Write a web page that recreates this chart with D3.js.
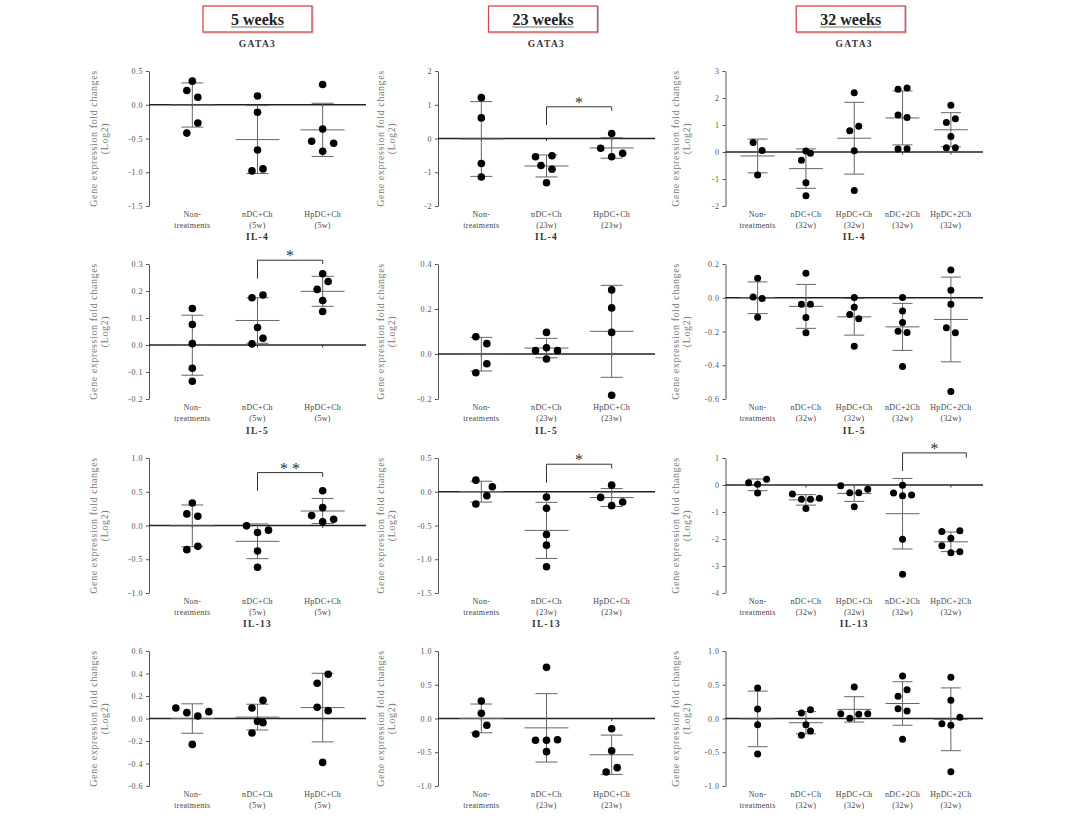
<!DOCTYPE html>
<html><head><meta charset="utf-8">
<script src="https://cdn.jsdelivr.net/npm/d3@7"></script>
<style>
body{margin:0;background:#fff;}
svg{display:block;font-family:"Liberation Serif","Times New Roman",serif;}
</style></head><body>
<svg id="chart" width="1067" height="829"></svg>
<script>
// ---------------- DATA ----------------
const weeks = ["5 weeks", "23 weeks", "32 weeks"];
const genes = ["GATA3", "IL-4", "IL-5", "IL-13"];
const groups5w  = [["Non-", "treatments"], ["nDC+Ch", "(5w)"], ["HpDC+Ch", "(5w)"]];
const groups23w = [["Non-", "treatments"], ["nDC+Ch", "(23w)"], ["HpDC+Ch", "(23w)"]];
const groups32w = [["Non-", "treatments"], ["nDC+Ch", "(32w)"], ["HpDC+Ch", "(32w)"], ["nDC+2Ch", "(32w)"], ["HpDC+2Ch", "(32w)"]];

// y-axis tick values per gene: [5w, 23w, 32w]
const ticksGATA3 = [[0.5, 0, -0.5, -1, -1.5], [2, 1, 0, -1, -2], [3, 2, 1, 0, -1, -2]];
const ticksIL4   = [[0.3, 0.2, 0.1, 0, -0.1, -0.2], [0.4, 0.2, 0, -0.2], [0.2, 0, -0.2, -0.4, -0.6]];
const ticksIL5   = [[1, 0.5, 0, -0.5, -1], [0.5, 0, -0.5, -1, -1.5], [1, 0, -1, -2, -3, -4]];
const ticksIL13  = [[0.6, 0.4, 0.2, 0, -0.2, -0.4, -0.6], [1, 0.5, 0, -0.5, -1], [1, 0.5, 0, -0.5, -1]];

// individual log2 fold changes (one array per group); *_dodge = scatter-dot side slot of each point
const gata3_5w = [[0.35, 0.21, 0.11, -0.27, -0.42], [0.13, -0.11, -0.67, -0.98, -0.95], [0.30, -0.36, -0.54, -0.57, -0.69]];
const gata3_5w_dodge = [[0, -0.5, 0.5, 0.5, -0.5], [0, 0, 0, -0.5, 0.5], [0, 0, -1, 1, 0]];
const gata3_23w = [[1.21, 0.61, -0.74, -1.14], [-0.54, -0.51, -0.80, -0.91, -1.31], [0.15, -0.29, -0.44, -0.54]];
const gata3_23w_dodge = [[0, 0, 0, 0], [-1, 0.5, -0.5, 0.5, 0], [0, -1, 1, 0]];
const gata3_32w = [[0.35, 0.06, -0.85], [0.04, -0.05, -0.31, -1.14, -1.62], [2.19, 0.79, 0.95, 0.05, -1.43],
                   [2.32, 2.37, 1.37, 1.28, 0.11, 0.12], [1.73, 1.09, 1.23, 0.57, 0.16, 0.16]];
const gata3_32w_dodge = [[-0.5, 0.5, 0], [0, 0.5, -0.5, 0, 0], [0, -0.5, 0.5, 0, 0],
                         [-0.5, 0.5, -0.5, 0.5, -0.5, 0.5], [0, -0.5, 0.5, 0, -0.5, 0.5]];

const il4_5w = [[0.135, 0.076, 0.005, -0.086, -0.134], [0.175, 0.185, 0.065, 0.025, 0.004], [0.264, 0.235, 0.206, 0.165, 0.124]];
const il4_5w_dodge = [[0, 0, 0, 0, 0], [-0.5, 0.5, 0, 0.5, -0.5], [0, 0.5, -0.5, 0, 0]];
const il4_23w = [[0.077, 0.046, -0.043, -0.083], [0.096, 0.028, 0.015, 0.015, -0.022], [0.285, 0.205, 0.096, -0.183]];
const il4_23w_dodge = [[-0.5, 0.5, 0.5, -0.5], [0, 0, -1, 1, 0], [0, 0, 0, 0]];
const il4_32w = [[0.115, 0.004, -0.004, -0.115], [0.145, -0.038, -0.038, -0.117, -0.208], [0.002, -0.057, -0.099, -0.125, -0.287],
                 [0.002, -0.079, -0.147, -0.198, -0.206, -0.408], [0.164, 0.044, -0.038, -0.178, -0.208, -0.556]];
const il4_32w_dodge = [[0, -0.5, 0.5, 0], [0, -0.5, 0.5, 0, 0], [0, 0, -0.5, 0.5, 0],
                       [0, 0, 0, -0.5, 0.5, 0], [0, 0, 0, -0.5, 0.5, 0]];

const il5_5w = [[0.333, 0.172, 0.137, -0.309, -0.358], [-0.005, -0.103, -0.069, -0.377, -0.618], [0.515, 0.265, 0.147, 0.093, 0.054]];
const il5_5w_dodge = [[0, -0.5, 0.5, 0.5, -0.5], [-1, 0, 1, 0, 0], [0, 0, -1, 1, 0]];
const il5_23w = [[0.172, 0.074, -0.059, -0.182], [-0.079, -0.246, -0.634, -0.791, -1.111], [0.098, -0.084, -0.152, -0.206]];
const il5_23w_dodge = [[-0.5, 1, 0.5, -0.5], [0, 0, 0, 0, 0], [0, -1, 1, 0]];
const il5_32w = [[0.087, 0.025, 0.21, -0.297], [-0.334, -0.532, -0.532, -0.495, -0.866], [-0.025, -0.285, -0.285, -0.161, -0.804],
                 [-0.297, -0.012, -0.396, -0.371, -2.005, -3.304], [-1.72, -1.696, -1.968, -2.252, -2.512, -2.475]];
const il5_32w_dodge = [[-1, 0, 1, 0], [-1.5, -0.5, 0.5, 1.5, 0], [-1.5, -0.5, 0.5, 1.5, 0],
                       [-1, 0, 0, 1, 0, 0], [-1, 1, 0, -1, 0, 1]];

const il13_5w = [[0.093, 0.052, 0.022, 0.061, -0.23], [0.093, 0.161, -0.025, -0.037, -0.129], [0.393, 0.313, 0.099, 0.07, -0.39]];
const il13_5w_dodge = [[-1.5, -0.5, 0.5, 1.5, 0], [-0.5, 0.5, 0, 0.5, -0.5], [0.5, -0.5, -0.5, 0.5, 0]];
const il13_23w = [[0.259, 0.077, -0.101, -0.23], [0.758, -0.323, -0.323, -0.314, -0.491], [-0.151, -0.477, -0.728, -0.793]];
const il13_23w_dodge = [[0, 0, 0.5, -0.5], [0, -1, 0, 1, 0], [0, 0, 0.5, -0.5]];
const il13_32w = [[0.452, 0.141, -0.091, -0.526], [0.081, 0.131, -0.091, -0.185, -0.249], [0.467, 0.072, 0.002, 0.062, 0.072],
                  [0.63, 0.328, 0.427, 0.146, 0.111, -0.309], [0.61, 0.269, 0.017, -0.077, -0.101, -0.788]];
const il13_32w_dodge = [[0, 0, 0, 0], [-0.5, 0.5, 0, 0.5, -0.5], [0, -1.5, -0.5, 0.5, 1.5],
                        [0, -0.5, 0.5, -0.5, 0.5, 0], [0, 0, 1, -1, 0, 0]];

// significance brackets: [gene, week, fromGroup, toGroup, barValue, leftLegEnd, rightLegEnd, label]
const sigBrackets = [
  [0, 1, 1, 2, 0.94, 0.40, 0.82, "*"],
  [1, 0, 1, 2, 0.314, 0.246, 0.30, "*"],
  [2, 0, 1, 2, 0.784, 0.515, 0.72, "* *"],
  [2, 1, 1, 2, 0.408, 0.133, 0.344, "*"],
  [2, 2, 3, 4.32, 1.19, 0.52, 1.01, "*"]
];

// ---------------- LAYOUT ----------------
const COL_X0 = [149, 438, 725.5];
const COL_X1 = [366, 655, 983];
const ROW_TOP = [71, 264, 458, 651];
const PLOT_H = 135;
const PAD = 0.665;
const DODGE_PX = [11, 11, 9];
const DOT_R = [3.8, 3.8, 3.5];
const MEAN_HALF = [22, 22, 17];
const CAP_HALF = [11, 11, 10];
const YLAB_DX = [55, 57, 50];

const groupsByWeek = [groups5w, groups23w, groups32w];
const ticksByGene = [ticksGATA3, ticksIL4, ticksIL5, ticksIL13];
const valuesByGene = [[gata3_5w, gata3_23w, gata3_32w], [il4_5w, il4_23w, il4_32w], [il5_5w, il5_23w, il5_32w], [il13_5w, il13_23w, il13_32w]];
const dodgeByGene = [[gata3_5w_dodge, gata3_23w_dodge, gata3_32w_dodge], [il4_5w_dodge, il4_23w_dodge, il4_32w_dodge],
                     [il5_5w_dodge, il5_23w_dodge, il5_32w_dodge], [il13_5w_dodge, il13_23w_dodge, il13_32w_dodge]];

const locale = d3.formatLocale({decimal: ".", thousands: ",", grouping: [3], currency: ["", ""], minus: "-"});

const svg = d3.select("#chart");
svg.append("rect").attr("width", 1067).attr("height", 829).attr("fill", "#fff");

// Week headers
weeks.forEach((w, ci) => {
  const cx = (COL_X0[ci] + COL_X1[ci]) / 2 - (ci === 0 ? 0 : 3.5);
  const g = svg.append("g");
  g.append("rect").attr("x", cx - 53.5).attr("y", 7).attr("width", 109).attr("height", 26)
    .attr("fill", "none").attr("stroke", "#c8c8c8").attr("stroke-width", 1.2);
  g.append("rect").attr("x", cx - 54.5).attr("y", 6).attr("width", 109).attr("height", 26)
    .attr("fill", "#fff").attr("stroke", "#d8474a").attr("stroke-width", 1.3);
  const t = g.append("text").attr("x", cx).attr("y", 25).attr("text-anchor", "middle")
    .attr("font-size", 16).attr("font-weight", "bold").attr("fill", "#222").text(w);
  const tw = t.node().getComputedTextLength();
  g.append("line").attr("x1", cx - tw / 2).attr("x2", cx + tw / 2).attr("y1", 27).attr("y2", 27)
    .attr("stroke", "#555").attr("stroke-width", 0.8);
});

function drawPanel(ri, ci) {
  const groups = groupsByWeek[ci];
  const ticks = ticksByGene[ri][ci];
  const values = valuesByGene[ri][ci];
  const dodge = dodgeByGene[ri][ci];
  const top = ROW_TOP[ri];
  const x0 = COL_X0[ci], x1 = COL_X1[ci];
  const n = groups.length;
  const x = d3.scaleLinear().domain([-PAD, n - 1 + PAD]).range([x0, x1]);
  const y = d3.scaleLinear().domain(d3.extent(ticks)).range([top + PLOT_H, top]);
  const g = svg.append("g");

  // title
  g.append("text").attr("x", (x0 + x1) / 2).attr("y", top - 24).attr("text-anchor", "middle")
    .attr("font-size", 9.5).attr("font-weight", "bold").attr("letter-spacing", 1.3).attr("fill", "#333")
    .text(genes[ri]);

  // y axis
  const fmt = ticks.every(Number.isInteger) ? locale.format("d") : locale.format(".1f");
  const ax = g.append("g").attr("transform", `translate(${x0},0)`)
    .call(d3.axisLeft(y).tickValues(ticks).tickFormat(fmt).tickSize(3).tickSizeOuter(0).tickPadding(3));
  ax.select(".domain").attr("stroke", "#555");
  ax.selectAll(".tick line").attr("stroke", "#555");
  ax.selectAll(".tick text").attr("font-family", "Liberation Serif, serif").attr("font-size", 8)
    .attr("letter-spacing", 0.5).attr("fill", "#555");

  // y axis label
  const ylab = g.append("g").attr("transform", `translate(${x0 - YLAB_DX[ci]},${top + PLOT_H / 2}) rotate(-90)`);
  ylab.append("text").attr("text-anchor", "middle").attr("y", 3).attr("font-size", 10)
    .attr("letter-spacing", 0.6).attr("fill", "#777").text("Gene expression fold changes");
  ylab.append("text").attr("text-anchor", "middle").attr("y", 14).attr("font-size", 10)
    .attr("letter-spacing", 0.6).attr("fill", "#777").text("(Log2)");

  // zero line
  g.append("line").attr("x1", x0).attr("x2", x1).attr("y1", y(0)).attr("y2", y(0))
    .attr("stroke", "#222").attr("stroke-width", 1.3);
  // category ticks on the zero line
  groups.forEach((_, i) => {
    g.append("line").attr("x1", x(i)).attr("x2", x(i)).attr("y1", y(0)).attr("y2", y(0) + 2.5)
      .attr("stroke", "#333").attr("stroke-width", 1);
  });

  // category labels
  groups.forEach((lab, i) => {
    lab.forEach((line, k) => {
      g.append("text").attr("x", x(i)).attr("y", top + PLOT_H + 11 + k * 11).attr("text-anchor", "middle")
        .attr("font-size", 8).attr("letter-spacing", 0.3).attr("fill", "#444").text(line);
    });
  });

  // error bars (mean ± SD) and dots
  values.forEach((vals, i) => {
    const m = d3.mean(vals), sd = d3.deviation(vals);
    const cx = x(i);
    const eg = g.append("g").attr("stroke", "#666").attr("stroke-width", 1);
    eg.append("line").attr("x1", cx).attr("x2", cx).attr("y1", y(m + sd)).attr("y2", y(m - sd));
    eg.append("line").attr("x1", cx - MEAN_HALF[ci]).attr("x2", cx + MEAN_HALF[ci]).attr("y1", y(m)).attr("y2", y(m));
    [m + sd, m - sd].forEach(v => {
      eg.append("line").attr("x1", cx - CAP_HALF[ci]).attr("x2", cx + CAP_HALF[ci]).attr("y1", y(v)).attr("y2", y(v));
    });
    g.selectAll(null).data(vals.map((v, k) => ({v, d: dodge[i][k]}))).join("circle")
      .attr("cx", d => cx + d.d * DODGE_PX[ci]).attr("cy", d => y(d.v)).attr("r", DOT_R[ci]).attr("fill", "#000");
  });

  // significance brackets
  sigBrackets.filter(b => b[0] === ri && b[1] === ci).forEach(b => {
    const [, , a, c, yb, yl, yr, lab] = b;
    const p = d3.path();
    p.moveTo(x(a), y(yl)); p.lineTo(x(a), y(yb)); p.lineTo(x(c), y(yb)); p.lineTo(x(c), y(yr));
    g.append("path").attr("d", p.toString()).attr("fill", "none").attr("stroke", "#333").attr("stroke-width", 1);
    g.append("text").attr("x", (x(a) + x(c)) / 2).attr("y", y(yb) + 1).attr("text-anchor", "middle")
      .attr("font-size", 16).attr("fill", "#333").text(lab);
  });
}

for (let ri = 0; ri < 4; ri++) for (let ci = 0; ci < 3; ci++) drawPanel(ri, ci);
</script>
</body></html>
